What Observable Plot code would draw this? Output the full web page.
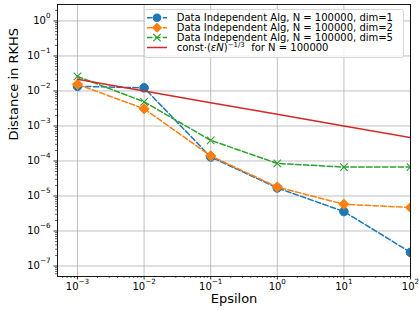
<!DOCTYPE html>
<html><head><meta charset="utf-8">
<script src="https://cdn.jsdelivr.net/npm/d3@7"></script>
<script src="https://cdn.jsdelivr.net/npm/@observablehq/plot@0.6"></script>
<style>
body{margin:0;background:#fff;font-family:"DejaVu Sans",sans-serif;}
#wrap{position:relative;width:419px;height:311px;overflow:hidden;}
#legend{position:absolute;left:144px;top:9px;}
</style></head><body><div id="wrap"></div>
<script>
// Data
const epsilon = [1e-3, 1e-2, 1e-1, 1, 10, 100];
const dim1 = [0.0136, 0.0123, 1.3e-4, 1.7e-5, 3.6e-6, 2.45e-7];
const dim2 = [0.0155, 3.1e-3, 1.4e-4, 1.8e-5, 5.8e-6, 4.7e-6];
const dim5 = [0.026, 4.9e-3, 3.9e-4, 8.5e-5, 6.7e-5, 6.7e-5];
const bound = [0.0215, 0.01, 0.00464, 0.00215, 0.001, 0.000464];
const seriesNames = [
  "Data Independent Alg, N = 100000, dim=1",
  "Data Independent Alg, N = 100000, dim=2",
  "Data Independent Alg, N = 100000, dim=5"
];
const xTicks = [1e-3, 1e-2, 1e-1, 1e0, 1e1, 1e2];
const yTicks = [1e-7, 1e-6, 1e-5, 1e-4, 1e-3, 1e-2, 1e-1, 1e0];
const xLabel = "Epsilon";
const yLabel = "Distance in RKHS";

const colors = ["#1f77b4", "#ff7f0e", "#2ca02c", "#d62728"];
const xDomain = [Math.pow(10, -3.3), 100];
const yDomain = [Math.pow(10, -7.3), Math.pow(10, 0.47)];

function minorTicks(domain) {
  const out = [];
  for (let e = Math.floor(Math.log10(domain[0])); e <= Math.ceil(Math.log10(domain[1])); e++) {
    for (let k = 2; k <= 9; k++) {
      const v = k * Math.pow(10, e);
      if (v >= domain[0] && v <= domain[1]) out.push(v);
    }
  }
  return out;
}
const xMinor = minorTicks(xDomain);
const yMinor = minorTicks(yDomain);

const rows = s => epsilon.map((e, i) => ({eps: e, v: s[i]}));
const r1 = rows(dim1), r2 = rows(dim2), r5 = rows(dim5), rb = rows(bound);

const dash = "5.5,2.4";
const fmt = d => "10^" + Math.round(Math.log10(d));
const blank = () => "";

const chart = Plot.plot({
  width: 419, height: 311,
  marginLeft: 57, marginRight: 9, marginTop: 4, marginBottom: 35,
  style: {fontFamily: "DejaVu Sans", background: "white", color: "black", overflow: "visible"},
  x: {type: "log", domain: xDomain, label: null},
  y: {type: "log", domain: yDomain, label: null},
  marks: [
    Plot.gridX(xTicks, {stroke: "#b0b0b0", strokeOpacity: 1, strokeWidth: 0.8}),
    Plot.gridY(yTicks, {stroke: "#b0b0b0", strokeOpacity: 1, strokeWidth: 0.8}),
    Plot.axisX(xMinor, {tickSize: 2, tickFormat: blank, strokeWidth: 0.6, label: null}),
    Plot.axisY(yMinor, {tickSize: 2, tickFormat: blank, strokeWidth: 0.6, label: null}),
    Plot.axisX(xTicks, {tickSize: 3.5, tickPadding: 3, tickFormat: fmt, fontSize: 10, strokeWidth: 0.8, label: null}),
    Plot.axisY(yTicks, {tickSize: 3.5, tickPadding: 3.5, tickFormat: fmt, fontSize: 10, strokeWidth: 0.8, label: null}),
    Plot.line(r1, {x: "eps", y: "v", stroke: colors[0], strokeWidth: 1.5, strokeDasharray: dash, clip: true}),
    Plot.dot(r1, {x: "eps", y: "v", r: 4.3, fill: colors[0], stroke: colors[0], strokeWidth: 1, clip: true}),
    Plot.line(r2, {x: "eps", y: "v", stroke: colors[1], strokeWidth: 1.5, strokeDasharray: dash, clip: true}),
    Plot.dot(r2, {x: "eps", y: "v", r: 4.6, symbol: d3.symbolDiamond2, fill: colors[1], stroke: colors[1], strokeWidth: 1, clip: true}),
    Plot.line(r5, {x: "eps", y: "v", stroke: colors[2], strokeWidth: 1.5, strokeDasharray: dash, clip: true}),
    Plot.dot(r5, {x: "eps", y: "v", r: 3.5, symbol: d3.symbolTimes, fill: "none", stroke: colors[2], strokeWidth: 1.1, clip: true}),
    Plot.line(rb, {x: "eps", y: "v", stroke: colors[3], strokeWidth: 1.5, clip: true}),
    Plot.frame({stroke: "black", strokeWidth: 0.9}),
    Plot.text([xLabel], {frameAnchor: "bottom", dy: 26, fontSize: 13}),
    Plot.text([yLabel], {frameAnchor: "left", rotate: -90, dx: -44, fontSize: 13})
  ]
});

// Render tick labels as 10 with a raised exponent
d3.select(chart).selectAll("g[aria-label$='tick label'] text").each(function() {
  const t = this.textContent;
  if (!t || t.indexOf("^") < 0) return;
  const [base, exp] = t.split("^");
  const sel = d3.select(this);
  sel.text(null);
  sel.append("tspan").text(base);
  sel.append("tspan").attr("dy", "-6.5").attr("font-size", "7.2px").text(exp.replace("-", "\u2212"));
});

const wrap = document.getElementById("wrap");
wrap.appendChild(chart);

// Legend (upper right, inside the axes)
const lg = d3.select(wrap).append("svg").attr("id", "legend")
  .attr("width", 262).attr("height", 51)
  .style("font-family", "DejaVu Sans").style("font-size", "10px");
lg.append("rect").attr("x", 0.5).attr("y", 0.5).attr("width", 259).attr("height", 48)
  .attr("rx", 2).attr("fill", "white").attr("fill-opacity", 0.8).attr("stroke", "#cccccc").attr("stroke-width", 0.8);
const rowY = [8.8, 18.7, 28.6, 38.5];
const labels = [...seriesNames];
rowY.forEach((cy, i) => {
  const line = lg.append("line").attr("x1", 3).attr("x2", 23).attr("y1", cy).attr("y2", cy)
    .attr("stroke", colors[i]).attr("stroke-width", 1.5);
  if (i < 3) line.attr("stroke-dasharray", dash);
  if (i === 0) lg.append("circle").attr("cx", 13).attr("cy", cy).attr("r", 4.3).attr("fill", colors[0]);
  if (i === 1) lg.append("path").attr("transform", `translate(13,${cy})`).attr("d", d3.symbol(d3.symbolDiamond2, Math.PI * 4.6 * 4.6)()).attr("fill", colors[1]);
  if (i === 2) lg.append("path").attr("transform", `translate(13,${cy})`).attr("d", d3.symbol(d3.symbolTimes, Math.PI * 3.5 * 3.5)()).attr("fill", "none").attr("stroke", colors[2]).attr("stroke-width", 1.1);
  const tx = lg.append("text").attr("x", 32.7).attr("y", cy + 3.6).attr("fill", "#000").style("white-space", "pre");
  if (i < 3) tx.text(labels[i]);
  else {
    tx.append("tspan").text("const\u00b7(");
    tx.append("tspan").attr("font-style", "italic").text("\u03b5N");
    tx.append("tspan").text(")");
    tx.append("tspan").attr("dy", "-4").attr("font-size", "7px").text("\u22121/3");
    tx.append("tspan").attr("dy", "4").text("  for N = 100000");
  }
});
</script>
</body></html>
